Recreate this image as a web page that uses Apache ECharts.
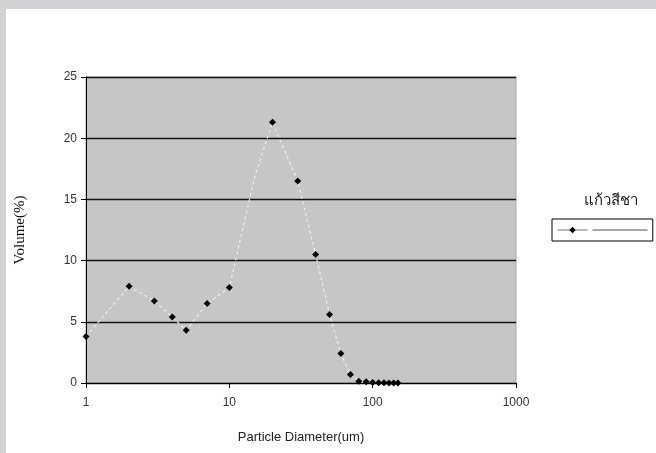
<!DOCTYPE html>
<html>
<head>
<meta charset="utf-8">
<script src="https://cdn.jsdelivr.net/npm/echarts@6/dist/echarts.min.js"></script>
<style>
html,body{margin:0;padding:0;background:#fff;}
#c{width:656px;height:453px;}
</style>
</head>
<body>
<div id="c"></div>
<script>
const seriesName = 'แก้วสีชา';
const diameters = [1, 2, 3, 4, 5, 7, 10, 15, 20, 30, 40, 50, 60, 70, 80, 90, 100, 110, 120, 130, 140, 150];
const volumes = [3.8, 7.9, 6.7, 5.4, 4.3, 6.5, 7.8, 16.8, 21.3, 16.5, 10.5, 5.6, 2.4, 0.7, 0.15, 0.1, 0.05, 0.03, 0.02, 0.01, 0.01, 0];
const hiddenMarkerAt = [15];
const xTicks = [1, 10, 100, 1000];
const yTicks = [0, 5, 10, 15, 20, 25];

const chart = echarts.init(document.getElementById('c'));
const data = diameters.map((d, i) => {
  const item = { value: [d, volumes[i]] };
  if (hiddenMarkerAt.includes(d)) item.symbol = 'none';
  return item;
});

chart.setOption({
  animation: false,
  backgroundColor: '#ffffff',
  graphic: [
    { type: 'rect', shape: { x: 0, y: 0, width: 656, height: 9 }, style: { fill: '#d0d2d4' }, silent: true },
    { type: 'rect', shape: { x: 0, y: 0, width: 6, height: 453 }, style: { fill: '#d0d2d4' }, silent: true },
    { type: 'text', left: 584, top: 193, style: { text: seriesName, font: '15px "Noto Sans", sans-serif', fill: '#222' } }
  ],
  grid: {
    left: 86, right: 140, top: 77, bottom: 70,
    show: true, backgroundColor: '#c6c6c6', borderColor: '#a8a8a8', borderWidth: 1
  },
  legend: {
    left: 552, top: 219,
    padding: [5, 5, 5, 5],
    borderColor: '#000', borderWidth: 1,
    itemWidth: 30, itemHeight: 8, itemGap: 0,
    data: [{ name: seriesName }],
    lineStyle: { color: '#777', width: 1, type: 'solid' },
    formatter: () => '{ln|}',
    textStyle: {
      rich: { ln: { width: 55, height: 0, borderColor: '#555', borderWidth: 0.6 } }
    }
  },
  xAxis: {
    type: 'log', logBase: 10, min: 1, max: 1000,
    name: 'Particle Diameter(um)', nameLocation: 'middle', nameGap: 48,
    nameTextStyle: { fontFamily: 'Liberation Sans, Arial, sans-serif', fontSize: 13, color: '#222' },
    axisLine: { lineStyle: { color: '#000', width: 1 } },
    axisTick: { show: true, length: 5, lineStyle: { color: '#000' } },
    axisLabel: {
      fontFamily: 'Liberation Sans, Arial, sans-serif', fontSize: 12, color: '#333', margin: 14,
      formatter: v => xTicks.includes(Math.round(v)) ? String(Math.round(v)) : ''
    },
    splitLine: { show: false },
    minorTick: { show: false }
  },
  yAxis: {
    type: 'value', min: yTicks[0], max: yTicks[yTicks.length - 1], interval: 5,
    name: 'Volume(%)', nameLocation: 'middle', nameGap: 58,
    nameTextStyle: { fontFamily: 'Liberation Serif, Times New Roman, serif', fontSize: 15, color: '#111' },
    axisLine: { show: true, lineStyle: { color: '#000', width: 1 } },
    axisTick: { show: true, length: 5, lineStyle: { color: '#000' } },
    axisLabel: { fontFamily: 'Liberation Sans, Arial, sans-serif', fontSize: 12, color: '#333', margin: 9 },
    splitLine: { show: true, lineStyle: { color: '#111', width: 1.3 } }
  },
  series: [{
    name: seriesName,
    type: 'line',
    data: data,
    symbol: 'diamond',
    symbolSize: 7,
    itemStyle: { color: '#000' },
    lineStyle: { color: '#efefef', width: 1.2, type: [3, 3] },
    z: 5
  }]
});
</script>
</body>
</html>
